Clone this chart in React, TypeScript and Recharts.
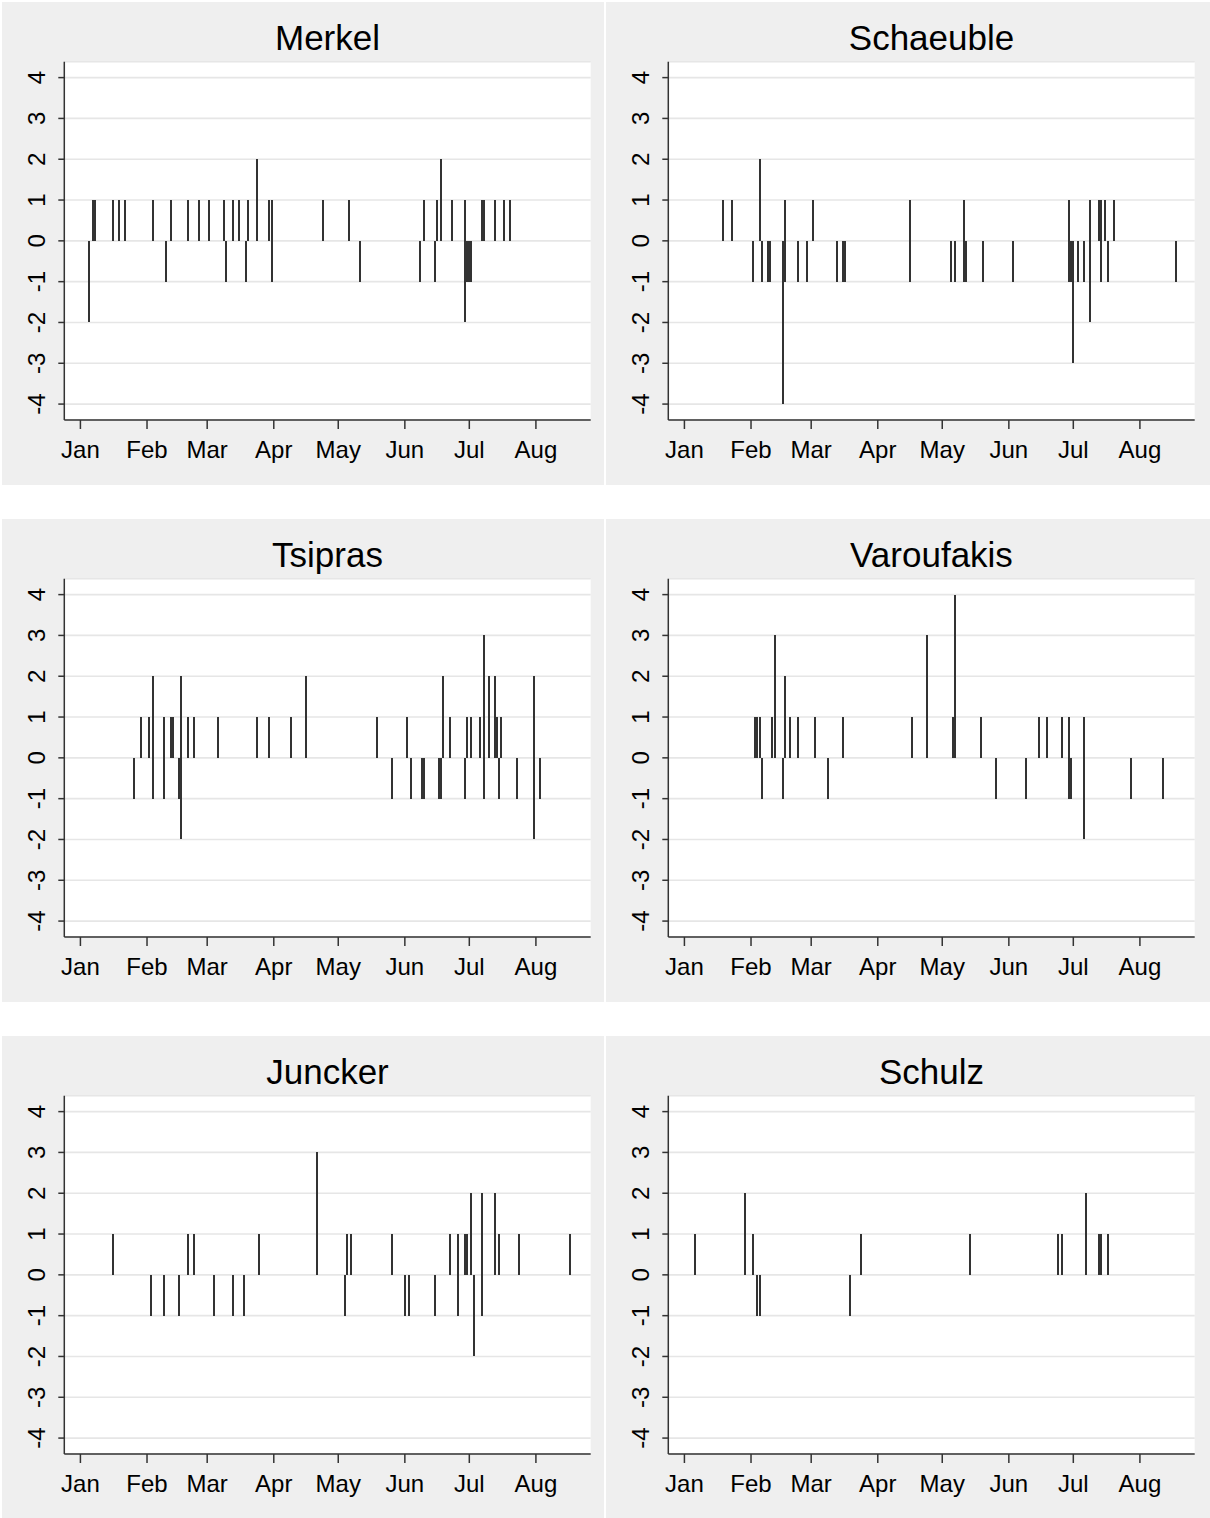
import React from "react";
import { BarChart, Bar, XAxis, YAxis, CartesianGrid } from "recharts";

const FONT = "'Liberation Sans', Arial, sans-serif";

// x axis: days since 1 Jan
const MONTH_LABELS = ["Jan", "Feb", "Mar", "Apr", "May", "Jun", "Jul", "Aug"];
const MONTH_START_DAYS = [0, 31, 59, 90, 120, 151, 181, 212];
const Y_TICKS = [-4, -3, -2, -1, 0, 1, 2, 3, 4];
const FIRST_DAY = -7;
const LAST_DAY = 237;

// [day, value]
const MERKEL_POS = [[6,1],[7,1],[15,1],[18,1],[21,1],[34,1],[42,1],[50,1],[55,1],[60,1],[67,1],[71,1],[74,1],[78,1],[82,2],[88,1],[89,1],[113,1],[125,1],[160,1],[166,1],[168,2],[173,1],[179,1],[187,1],[188,1],[193,1],[197,1],[200,1]];
const MERKEL_NEG = [[4,-2],[40,-1],[68,-1],[77,-1],[89,-1],[130,-1],[158,-1],[165,-1],[179,-2],[180,-1],[181,-1],[182,-1]];

const SCHAEUBLE_POS = [[18,1],[22,1],[35,2],[47,1],[60,1],[105,1],[130,1],[179,1],[189,1],[193,1],[194,1],[196,1],[200,1]];
const SCHAEUBLE_NEG = [[32,-1],[36,-1],[39,-1],[40,-1],[46,-4],[47,-1],[53,-1],[57,-1],[71,-1],[74,-1],[75,-1],[105,-1],[124,-1],[126,-1],[130,-1],[131,-1],[139,-1],[153,-1],[179,-1],[180,-1],[181,-3],[183,-1],[186,-1],[189,-2],[194,-1],[197,-1],[229,-1]];

const TSIPRAS_POS = [[28,1],[32,1],[34,2],[39,1],[42,1],[43,1],[47,2],[50,1],[53,1],[64,1],[82,1],[88,1],[98,1],[105,2],[138,1],[152,1],[169,2],[172,1],[180,1],[182,1],[186,1],[188,3],[190,2],[193,2],[194,1],[196,1],[211,2]];
const TSIPRAS_NEG = [[25,-1],[34,-1],[39,-1],[46,-1],[47,-2],[145,-1],[154,-1],[159,-1],[160,-1],[167,-1],[168,-1],[179,-1],[188,-1],[195,-1],[203,-1],[211,-2],[214,-1]];

const VAROUFAKIS_POS = [[33,1],[34,1],[35,1],[41,1],[42,3],[47,2],[49,1],[53,1],[61,1],[74,1],[106,1],[113,3],[125,1],[126,4],[138,1],[165,1],[169,1],[176,1],[179,1],[186,1]];
const VAROUFAKIS_NEG = [[36,-1],[46,-1],[67,-1],[145,-1],[159,-1],[179,-1],[180,-1],[186,-2],[208,-1],[223,-1]];

const JUNCKER_POS = [[15,1],[50,1],[53,1],[83,1],[110,3],[124,1],[126,1],[145,1],[172,1],[176,1],[179,1],[180,1],[182,2],[187,2],[193,2],[195,1],[204,1],[228,1]];
const JUNCKER_NEG = [[33,-1],[39,-1],[46,-1],[62,-1],[71,-1],[76,-1],[123,-1],[151,-1],[153,-1],[165,-1],[176,-1],[183,-2],[187,-1]];

const SCHULZ_POS = [[5,1],[28,2],[32,1],[82,1],[133,1],[174,1],[176,1],[187,2],[193,1],[194,1],[197,1]];
const SCHULZ_NEG = [[34,-1],[35,-1],[77,-1]];

function buildRows(pos: number[][], neg: number[][]) {
  const rows: { day: number; range: [number, number] }[] = [];
  for (let d = FIRST_DAY; d <= LAST_DAY; d++) {
    const p = pos.find((e) => e[0] === d);
    const n = neg.find((e) => e[0] === d);
    rows.push({ day: d, range: [n ? n[1] : 0, p ? p[1] : 0] });
  }
  return rows;
}

const RotatedTick = (props: any) => {
  const { x, y, payload } = props;
  const bx = x - 11.3;
  return (
    <text
      x={bx}
      y={y}
      transform={`rotate(-90, ${bx}, ${y})`}
      textAnchor="middle"
      fontSize={24}
      fontFamily={FONT}
      fill="#000"
    >
      {payload.value}
    </text>
  );
};

const monthLabel = (v: number) => {
  const i = MONTH_START_DAYS.indexOf(Number(v));
  return i >= 0 ? MONTH_LABELS[i] : "";
};

function Panel({ title, pos, neg, left, top, width }: any) {
  const rows = buildRows(pos, neg);
  const rightMargin = width - 588.7;
  return (
    <div
      style={{
        position: "absolute",
        left,
        top,
        width,
        height: 483,
        background: "#efefef",
      }}
    >
      <BarChart
        width={width}
        height={483}
        data={rows}
        margin={{ top: 59.7, right: rightMargin, bottom: 5, left: 2.3 }}
        barCategoryGap={0}
        barGap={0}
      >
        <CartesianGrid
          vertical={false}
          fill="#ffffff"
          fillOpacity={1}
          stroke="#e6e6e6"
          strokeWidth={1.6}
        />
        <XAxis
          dataKey="day"
          type="category"
          ticks={MONTH_START_DAYS}
          interval={0}
          tickFormatter={monthLabel}
          tickSize={9}
          tickMargin={12}
          height={60}
          tick={{ fill: "#000", fontSize: 24, fontFamily: FONT }}
          axisLine={{ stroke: "#333", strokeWidth: 1.5 }}
          tickLine={{ stroke: "#333", strokeWidth: 1.5 }}
        />
        <YAxis
          type="number"
          domain={[-4.39, 4.39]}
          allowDataOverflow
          ticks={Y_TICKS}
          interval={0}
          width={60}
          tickSize={6}
          tickMargin={2}
          tick={<RotatedTick />}
          axisLine={{ stroke: "#333", strokeWidth: 1.5 }}
          tickLine={{ stroke: "#333", strokeWidth: 1.5 }}
        />
        <Bar
          dataKey="range"
          fill="#333333"
          shapeRendering="crispEdges"
          isAnimationActive={false}
        />
      </BarChart>
      <div
        style={{
          position: "absolute",
          left: 62,
          width: 527,
          top: 16.4,
          textAlign: "center",
          fontSize: 35,
          lineHeight: "40px",
          fontFamily: FONT,
          color: "#000",
        }}
      >
        {title}
      </div>
    </div>
  );
}

export default function App() {
  return (
    <div
      style={{
        position: "absolute",
        left: 0,
        top: 0,
        width: 1210,
        height: 1518,
        background: "#ffffff",
        fontFamily: FONT,
      }}
    >
      <Panel title="Merkel" pos={MERKEL_POS} neg={MERKEL_NEG} left={2} top={2} width={602} />
      <Panel title="Schaeuble" pos={SCHAEUBLE_POS} neg={SCHAEUBLE_NEG} left={606} top={2} width={604} />
      <Panel title="Tsipras" pos={TSIPRAS_POS} neg={TSIPRAS_NEG} left={2} top={519} width={602} />
      <Panel title="Varoufakis" pos={VAROUFAKIS_POS} neg={VAROUFAKIS_NEG} left={606} top={519} width={604} />
      <Panel title="Juncker" pos={JUNCKER_POS} neg={JUNCKER_NEG} left={2} top={1036} width={602} />
      <Panel title="Schulz" pos={SCHULZ_POS} neg={SCHULZ_NEG} left={606} top={1036} width={604} />
    </div>
  );
}
